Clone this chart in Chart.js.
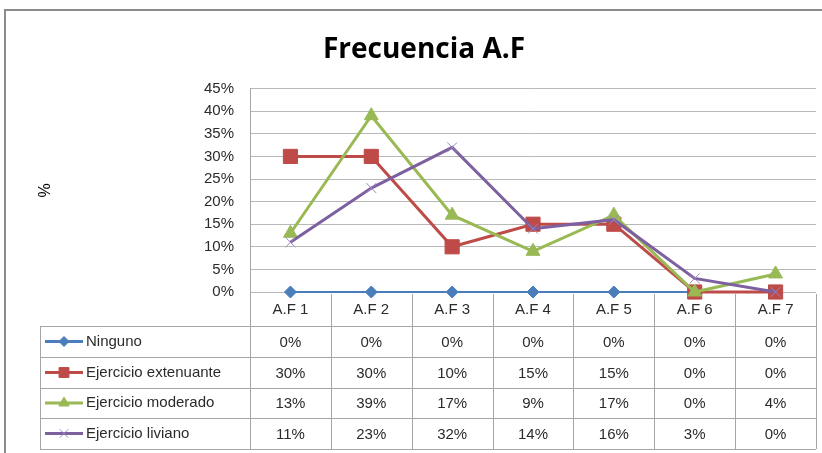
<!DOCTYPE html>
<html>
<head>
<meta charset="utf-8">
<script src="https://cdn.jsdelivr.net/npm/chart.js@4/dist/chart.umd.min.js"></script>
<style>
  html, body { margin: 0; padding: 0; background: #fff; }
  #wrap { width: 822px; height: 453px; position: relative; }
</style>
</head>
<body>
<div id="wrap"><canvas id="c" width="822" height="453"></canvas></div>
<script>
const categories = ['A.F 1', 'A.F 2', 'A.F 3', 'A.F 4', 'A.F 5', 'A.F 6', 'A.F 7'];
const ninguno = [0, 0, 0, 0, 0, 0, 0];
const extenuante = [30, 30, 10, 15, 15, 0, 0];
const moderado = [13, 39, 17, 9, 17, 0, 4];
const liviano = [11, 23, 32, 14, 16, 3, 0];
const seriesNames = ['Ninguno', 'Ejercicio extenuante', 'Ejercicio moderado', 'Ejercicio liviano'];
const yTicks = [0, 5, 10, 15, 20, 25, 30, 35, 40, 45];

const FONT = "'Liberation Sans', Arial, sans-serif";
const TEXT = '#2b2b2b';
const colors = ['#4a7ebb', '#be4b48', '#98b954', '#7d60a0'];
const styles = [
  { pointStyle: 'rectRot', radius: 6, borderWidth: 1, lineWidth: 2 },
  { pointStyle: 'rect', radius: 10, borderWidth: 1, lineWidth: 3 },
  { pointStyle: 'triangle', radius: 8, borderWidth: 1, lineWidth: 3 },
  { pointStyle: 'crossRot', radius: 7, borderWidth: 1, lineWidth: 3 }
];
const allData = [ninguno, extenuante, moderado, liviano];

const datasets = allData.map((d, i) => ({
  label: seriesNames[i],
  data: d,
  borderColor: colors[i],
  backgroundColor: colors[i],
  borderWidth: styles[i].lineWidth,
  pointStyle: styles[i].pointStyle,
  pointRadius: styles[i].radius,
  pointHoverRadius: styles[i].radius,
  pointBorderWidth: styles[i].borderWidth,
  pointBackgroundColor: colors[i],
  pointBorderColor: i === 3 ? '#9b85c0' : colors[i],
  tension: 0,
  clip: false,
  order: 3 - i
}));

const tablePlugin = {
  id: 'tablePlugin',
  beforeDraw(chart) {
    const ctx = chart.ctx;
    ctx.save();
    ctx.strokeStyle = '#8c8c8c';
    ctx.lineWidth = 2;
    ctx.beginPath();
    ctx.moveTo(5, 460);
    ctx.lineTo(5, 10);
    ctx.lineTo(830, 10);
    ctx.stroke();
    ctx.restore();
  },
  afterDraw(chart) {
    const ctx = chart.ctx;
    const xs = chart.scales.x;
    const area = chart.chartArea;
    const n = categories.length;
    const colW = (area.right - area.left) / n;
    const headerTop = area.bottom;
    const rowTops = [326, 357, 388, 418, 449];
    const tableLeft = 40;
    ctx.save();
    ctx.strokeStyle = '#a6a6a6';
    ctx.lineWidth = 1;
    ctx.beginPath();
    for (let k = 0; k <= n; k++) {
      const x = Math.round(area.left + k * colW) + 0.5;
      ctx.moveTo(x, headerTop + (k === 0 ? 0 : 2));
      ctx.lineTo(x, rowTops[rowTops.length - 1]);
    }
    rowTops.forEach(y => {
      ctx.moveTo(tableLeft, y + 0.5);
      ctx.lineTo(area.right, y + 0.5);
    });
    ctx.moveTo(tableLeft + 0.5, rowTops[0]);
    ctx.lineTo(tableLeft + 0.5, rowTops[rowTops.length - 1]);
    ctx.stroke();

    ctx.fillStyle = TEXT;
    ctx.font = '15px ' + FONT;
    ctx.textAlign = 'center';
    ctx.textBaseline = 'middle';
    categories.forEach((c, j) => {
      ctx.fillText(c, xs.getPixelForValue(j), (headerTop + rowTops[0]) / 2 + 1);
    });
    allData.forEach((d, i) => {
      const yc = (rowTops[i] + rowTops[i + 1]) / 2 + 1;
      d.forEach((v, j) => {
        ctx.fillStyle = TEXT;
        ctx.textAlign = 'center';
        ctx.fillText(v + '%', xs.getPixelForValue(j), yc);
      });
      // legend key
      ctx.strokeStyle = colors[i];
      ctx.lineWidth = 3;
      ctx.beginPath();
      ctx.moveTo(45, yc - 1);
      ctx.lineTo(83, yc - 1);
      ctx.stroke();
      ctx.fillStyle = colors[i];
      ctx.strokeStyle = i === 3 ? '#9b85c0' : colors[i];
      ctx.lineWidth = 1;
      Chart.helpers.drawPoint(ctx, {
        pointStyle: styles[i].pointStyle,
        radius: i === 1 ? 7 : (i === 0 ? 5 : 6),
        borderWidth: 1,
        rotation: 0
      }, 64, yc - 1);
      ctx.fillStyle = TEXT;
      ctx.textAlign = 'left';
      ctx.fillText(seriesNames[i], 86, yc - 1);
    });
    ctx.restore();
  }
};

new Chart(document.getElementById('c'), {
  type: 'line',
  data: { labels: categories, datasets: datasets },
  options: {
    responsive: false,
    animation: false,
    events: [],
    layout: { autoPadding: false, padding: { left: 32, right: 6, top: 0, bottom: 161 } },
    plugins: {
      legend: { display: false },
      tooltip: { enabled: false },
      title: {
        display: true,
        text: 'Frecuencia A.F',
        color: '#000',
        font: { family: "'Liberation Sans Narrow', 'Open Sans', sans-serif", size: 28, weight: 'bold' },
        padding: { top: 33, bottom: 22 }
      }
    },
    scales: {
      x: {
        type: 'category',
        display: false,
        offset: true
      },
      y: {
        min: 0,
        max: 45,
        afterBuildTicks(scale) { scale.ticks = yTicks.map(v => ({ value: v })); },
        afterFit(scale) { scale.width = 218; },
        border: { display: true, color: '#a6a6a6', width: 1 },
        grid: { color: '#b8b8b8', lineWidth: 1, drawTicks: false },
        ticks: {
          color: TEXT,
          padding: 16,
          font: { family: FONT, size: 15 },
          callback: v => v + '%'
        },
        title: {
          display: true,
          text: '%',
          color: '#000',
          font: { family: FONT, size: 16 },
          padding: { top: 4, bottom: 4 }
        }
      }
    }
  },
  plugins: [tablePlugin]
});
</script>
</body>
</html>
